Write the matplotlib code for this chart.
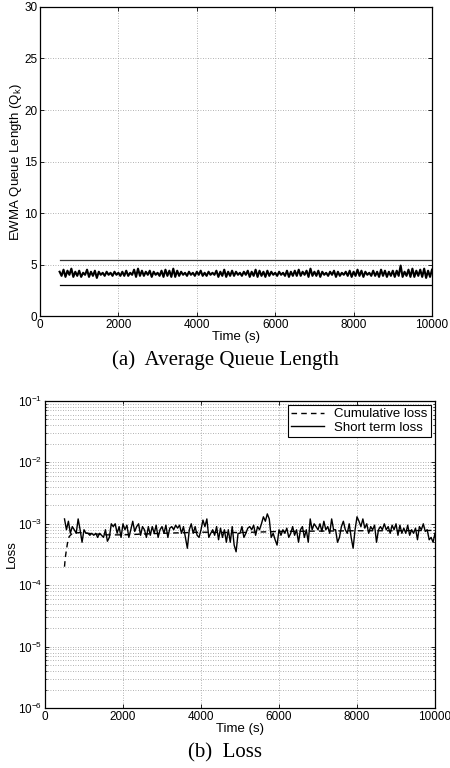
import numpy as np
import matplotlib
matplotlib.use("Agg")
import matplotlib.pyplot as plt
from matplotlib.ticker import LogLocator, NullFormatter, FixedLocator

# ---------------- data ----------------
t_start = 500
t_step = 50

# EWMA queue length samples (every 50 s from 500 s)
ewma_q = [
    4.3,3.9,4.5,3.8,4.4,4.0,4.6,3.8,4.3,3.9,
    4.4,3.8,4.2,4.0,4.5,3.8,4.3,3.9,4.4,3.7,
    4.3,4.0,4.2,3.9,4.3,4.0,4.2,3.9,4.3,4.0,
    4.2,3.9,4.3,3.9,4.4,3.9,4.2,4.0,4.5,3.8,
    4.6,3.9,4.4,3.9,4.3,4.0,4.4,3.8,4.3,4.0,
    4.2,3.9,4.4,3.8,4.5,3.9,4.4,3.8,4.6,3.8,
    4.4,3.9,4.3,4.0,4.2,3.9,4.3,4.0,4.2,3.9,
    4.3,4.0,4.4,3.9,4.2,3.9,4.3,4.0,4.2,4.0,
    4.4,3.8,4.3,3.9,4.5,3.8,4.3,3.9,4.4,3.9,
    4.3,4.0,4.2,3.9,4.3,4.0,4.4,3.8,4.3,3.9,
    4.5,3.8,4.4,3.9,4.3,3.8,4.4,3.9,4.3,4.0,
    4.2,3.9,4.3,4.0,4.2,3.9,4.4,3.8,4.3,3.9,
    4.4,3.9,4.5,3.9,4.3,4.0,4.4,3.8,4.6,3.9,
    4.3,3.9,4.4,3.8,4.3,4.0,4.2,3.9,4.3,4.0,
    4.4,3.8,4.3,3.9,4.2,4.0,4.3,3.9,4.4,3.8,
    4.3,3.9,4.5,3.9,4.4,3.8,4.3,4.0,4.2,3.9,
    4.4,3.9,4.3,3.8,4.5,3.9,4.4,3.8,4.3,3.9,
    4.4,3.8,4.4,3.9,4.9,3.8,4.3,3.9,4.5,3.8,
    4.6,3.8,4.4,3.9,4.5,3.8,4.6,3.7,4.4,3.8,
    4.5,
]
thresh_upper = 5.4
thresh_lower = 3.0
thresh_span = [500, 10000]

# Short-term loss (units of 1e-4), every 50 s from 500 s
short_loss_e4 = [
    12,8,11,7,9,8,7,12,8,5,
    8,7,7,6.5,7,6.5,7,6,7,6.5,
    6,8,5.2,6,10,9,10,7,9,6,
    10,8,9.5,6,8,11,7.5,9,10,6.5,
    9,8,6,9,6.5,9,7,9.5,6,8,
    9,7,9.5,6,8.5,9,8,9.5,8.5,9.5,
    7,9,6,4,8,10,7,9,6.5,6,
    8,11.5,9,12,6,7,8,6.5,9,5.5,
    8.5,6,8,5,8,5,9,4.5,3.5,7,
    7,9,6,7,8.5,9,8,9.5,6.5,9,
    8,10,13,11,14.5,12,6,7,5.5,4.5,
    8,6.5,8,7,8.5,6,7,9,6.5,8,
    5,8,9,6,8,5,12,8,10,9,
    8,10,7.5,11,8,9,7,12,8,8,
    5,6,9,11,8,7,10,6,4,8,
    13,11,9,12,8.5,10,7,9,8,9.5,
    5,8,9,8,10,8,9,7,9.5,8,
    10,6.5,9.5,7,8.5,7,9.5,6.5,8,7,
    8.5,5.5,9,8,10,7.5,8,5.5,6,5,
    7,
]

# Cumulative loss (units of 1e-4)
cum_t = [500, 520, 550, 580, 620, 700, 900, 1200, 1600, 2000, 3000, 4000, 5000, 6000, 7000, 8000, 9000, 10000]
cum_loss_e4 = [2.0, 2.8, 3.8, 5.0, 6.2, 7.0, 7.2, 6.9, 6.6, 6.6, 7.0, 7.3, 7.2, 7.5, 7.6, 7.7, 7.7, 7.8]

x_ticks = [0, 2000, 4000, 6000, 8000, 10000]
q_ticks = [0, 5, 10, 15, 20, 25, 30]

# ---------------- figure ----------------
plt.rcParams['font.family'] = ['Liberation Sans', 'DejaVu Sans']
plt.rcParams['mathtext.fontset'] = 'custom'
plt.rcParams['mathtext.rm'] = 'Liberation Sans'
plt.rcParams['mathtext.it'] = 'Liberation Sans:italic'

fig = plt.figure(figsize=(4.5, 7.68), dpi=100)

grid_kw = dict(color='#999999', linestyle=(0, (1, 2)), linewidth=0.6)
tick_fs = 8.5
lab_fs = 9.5

# ---- (a) ----
ax1 = fig.add_axes([0.0889, 0.5885, 0.8711, 0.4024])
tq = t_start + t_step * np.arange(len(ewma_q))
ax1.plot(tq, ewma_q, color='black', linewidth=1.5)
ax1.plot(thresh_span, [thresh_upper, thresh_upper], color='#333333', linewidth=0.9)
ax1.plot(thresh_span, [thresh_lower, thresh_lower], color='black', linewidth=0.9)
ax1.set_xlim(0, 10000)
ax1.set_ylim(0, 30)
ax1.xaxis.set_major_locator(FixedLocator(x_ticks))
ax1.yaxis.set_major_locator(FixedLocator(q_ticks))
ax1.grid(True, which='major', **grid_kw)
ax1.tick_params(direction='in', labelsize=tick_fs, length=3, width=0.6, top=True, right=True, pad=2)
ax1.set_xlabel('Time (s)', fontsize=lab_fs, labelpad=0)
ax1.set_ylabel(r'EWMA Queue Length (Q$_{\mathrm{k}}$)', fontsize=lab_fs, labelpad=0)
for s in ax1.spines.values():
    s.set_linewidth(0.9)

fig.text(0.5, 0.531, '(a)  Average Queue Length', ha='center', va='center',
         fontsize=15, family=['Liberation Serif', 'DejaVu Serif'])

# ---- (b) ----
ax2 = fig.add_axes([0.1, 0.0781, 0.8667, 0.3998])
tl = t_start + t_step * np.arange(len(short_loss_e4))
ax2.semilogy(cum_t, np.array(cum_loss_e4) * 1e-4, color='black', linewidth=1.0,
             linestyle=(0, (4, 3)), label='Cumulative loss')
ax2.semilogy(tl, np.array(short_loss_e4) * 1e-4, color='black', linewidth=1.0,
             label='Short term loss')
ax2.set_xlim(0, 10000)
ax2.set_ylim(1e-6, 1e-1)
ax2.xaxis.set_major_locator(FixedLocator(x_ticks))
ax2.yaxis.set_major_locator(LogLocator(base=10, numticks=10))
ax2.yaxis.set_minor_locator(LogLocator(base=10, subs=np.arange(2, 10), numticks=20))
ax2.yaxis.set_minor_formatter(NullFormatter())
ax2.grid(True, which='major', **grid_kw)
ax2.grid(True, which='minor', axis='y', **grid_kw)
ax2.tick_params(direction='in', which='both', labelsize=tick_fs, top=True, right=True, pad=2)
ax2.tick_params(which='major', length=3, width=0.6)
ax2.tick_params(which='minor', length=1.5, width=0.5)
ax2.set_xlabel('Time (s)', fontsize=lab_fs, labelpad=0)
ax2.set_ylabel('Loss', fontsize=lab_fs, labelpad=0)
for s in ax2.spines.values():
    s.set_linewidth(0.9)
leg = ax2.legend(loc='upper right', fontsize=lab_fs, fancybox=False,
                 framealpha=1, edgecolor='black', borderpad=0.25, labelspacing=0.1,
                 handlelength=2.5, borderaxespad=0.3)
leg.get_frame().set_linewidth(0.8)

fig.text(0.5, 0.0195, '(b)  Loss', ha='center', va='center',
         fontsize=15, family=['Liberation Serif', 'DejaVu Serif'])

fig.savefig('out.png', dpi=100)
